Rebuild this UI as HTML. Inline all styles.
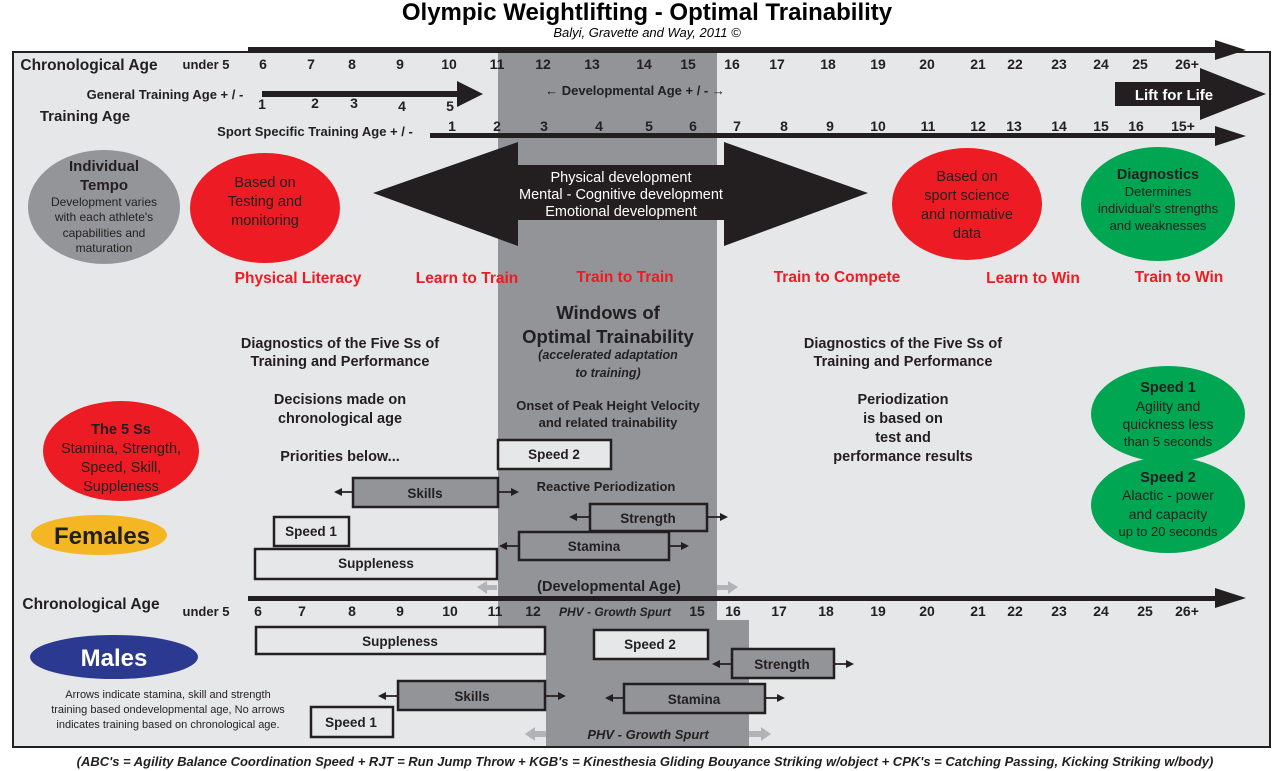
<!DOCTYPE html>
<html><head><meta charset="utf-8"><style>
html,body{margin:0;padding:0;background:#fff;}
svg{display:block;font-family:"Liberation Sans",Arial,sans-serif;}
.b{font-weight:bold;}
</style></head><body>
<svg width="1280" height="771" viewBox="0 0 1280 771" xmlns="http://www.w3.org/2000/svg">
<defs>
<marker id="ah" markerWidth="8" markerHeight="8" refX="6" refY="4" orient="auto" markerUnits="userSpaceOnUse"><path d="M0,0 L8,4 L0,8 Z" fill="#231f20"/></marker>
</defs>
<text x="647" y="20" text-anchor="middle" class="b" font-size="24" fill="#000">Olympic Weightlifting - Optimal Trainability</text>
<text x="647" y="37" text-anchor="middle" font-style="italic" font-size="13" fill="#000">Balyi, Gravette and Way, 2011 ©</text>

<rect x="13" y="52" width="1257" height="695" fill="#e6e7e8" stroke="#231f20" stroke-width="2"/>
<rect x="498" y="53" width="219" height="580" fill="#929497"/>
<rect x="546" y="620" width="203" height="126" fill="#929497"/>

<rect x="248" y="47" width="970" height="5" fill="#231f20"/>
<path d="M1215,40 L1246,50 L1215,60 Z" fill="#231f20"/>
<g font-size="14" class="b" fill="#231f20" text-anchor="middle">
<text x="89" y="70" font-size="15.5">Chronological Age</text>
<text x="206" y="69" font-size="13">under  5</text>
<text x="263" y="69">6</text><text x="311" y="69">7</text><text x="352" y="69">8</text><text x="400" y="69">9</text><text x="449" y="69">10</text><text x="497" y="69">11</text><text x="543" y="69">12</text><text x="592" y="69">13</text><text x="644" y="69">14</text><text x="688" y="69">15</text><text x="732" y="69">16</text><text x="777" y="69">17</text><text x="828" y="69">18</text><text x="878" y="69">19</text><text x="927" y="69">20</text><text x="978" y="69">21</text><text x="1015" y="69">22</text><text x="1059" y="69">23</text><text x="1101" y="69">24</text><text x="1140" y="69">25</text><text x="1187" y="69">26+</text>
</g>
<text x="165" y="99" text-anchor="middle" class="b" font-size="13" fill="#231f20">General Training Age + / -</text>
<rect x="262" y="91" width="200" height="6" fill="#231f20"/>
<path d="M457,81 L483,94 L457,107 Z" fill="#231f20"/>
<g font-size="14" class="b" fill="#231f20" text-anchor="middle">
<text x="262" y="109">1</text><text x="315" y="108">2</text><text x="354" y="108">3</text><text x="402" y="111">4</text><text x="450" y="111">5</text>
</g>
<text x="85" y="121" text-anchor="middle" class="b" font-size="15" fill="#231f20">Training Age</text>
<text x="635" y="95" text-anchor="middle" class="b" font-size="13" fill="#231f20">← Developmental Age + / -  →</text>
<rect x="1115" y="82" width="90" height="24" fill="#231f20"/>
<path d="M1200,68 L1266,94 L1200,120 Z" fill="#231f20"/>
<text x="1174" y="100" text-anchor="middle" class="b" font-size="15" fill="#fff">Lift for Life</text>
<text x="315" y="136" text-anchor="middle" class="b" font-size="13" fill="#231f20">Sport Specific Training Age + / -</text>
<rect x="430" y="133" width="790" height="5" fill="#231f20"/>
<path d="M1215,126 L1246,136 L1215,146 Z" fill="#231f20"/>
<g font-size="14" class="b" fill="#231f20" text-anchor="middle">
<text x="452" y="131">1</text><text x="497" y="131">2</text><text x="544" y="131">3</text><text x="599" y="131">4</text><text x="649" y="131">5</text><text x="693" y="131">6</text><text x="737" y="131">7</text><text x="784" y="131">8</text><text x="830" y="131">9</text><text x="878" y="131">10</text><text x="928" y="131">11</text><text x="978" y="131">12</text><text x="1014" y="131">13</text><text x="1059" y="131">14</text><text x="1101" y="131">15</text><text x="1136" y="131">16</text><text x="1183" y="131">15+</text>
</g>
<path d="M373,193 L518,142 L518,165 L724,165 L724,142 L868,193 L724,246 L724,220 L518,220 L518,246 Z" fill="#231f20"/>
<g fill="#fff" font-size="14.5" text-anchor="middle">
<text x="621" y="182">Physical development</text>
<text x="621" y="199">Mental - Cognitive development</text>
<text x="621" y="216">Emotional development</text>
</g>
<ellipse cx="104" cy="207" rx="76" ry="57" fill="#939598"/>
<g text-anchor="middle" fill="#231f20">
<text x="104" y="171" class="b" font-size="15">Individual</text>
<text x="104" y="190" class="b" font-size="15">Tempo</text>
<text x="104" y="206" font-size="12">Development varies</text>
<text x="104" y="221" font-size="12">with each athlete's</text>
<text x="104" y="237" font-size="12">capabilities and</text>
<text x="104" y="252" font-size="12">maturation</text>
</g>
<ellipse cx="265" cy="208" rx="75" ry="55" fill="#ed1c24"/>
<g text-anchor="middle" fill="#231f20" font-size="14.5">
<text x="265" y="187">Based on</text><text x="265" y="206">Testing and</text><text x="265" y="225">monitoring</text>
</g>
<ellipse cx="967" cy="204" rx="75" ry="56" fill="#ed1c24"/>
<g text-anchor="middle" fill="#231f20" font-size="14.5">
<text x="967" y="181">Based on</text><text x="967" y="200">sport science</text><text x="967" y="219">and normative</text><text x="967" y="238">data</text>
</g>
<ellipse cx="1158" cy="204" rx="77" ry="57" fill="#00a651"/>
<g text-anchor="middle" fill="#231f20">
<text x="1158" y="179" class="b" font-size="14.5">Diagnostics</text>
<text x="1158" y="196" font-size="13">Determines</text>
<text x="1158" y="213" font-size="13">individual's strengths</text>
<text x="1158" y="230" font-size="13">and weaknesses</text>
</g>
<g fill="#ed1c24" class="b" font-size="15.5" text-anchor="middle">
<text x="298" y="283">Physical Literacy</text><text x="467" y="283">Learn to Train</text><text x="625" y="282">Train to Train</text><text x="837" y="282">Train to Compete</text><text x="1033" y="283">Learn to Win</text><text x="1179" y="282">Train to Win</text>
</g>
<g fill="#231f20" class="b" font-size="14.5" text-anchor="middle">
<text x="340" y="348">Diagnostics of the Five Ss of</text><text x="340" y="366">Training and Performance</text>
<text x="340" y="404">Decisions made on</text><text x="340" y="423">chronological age</text>
<text x="340" y="461">Priorities below...</text>
<text x="903" y="348">Diagnostics of the Five Ss of</text><text x="903" y="366">Training and Performance</text>
<text x="903" y="404">Periodization</text><text x="903" y="423">is based on</text><text x="903" y="442">test and</text><text x="903" y="461">performance results</text>
<text x="608" y="319" font-size="18.5">Windows of</text><text x="608" y="343" font-size="18.5">Optimal Trainability</text>
<text x="608" y="359" font-size="12.5" font-style="italic">(accelerated adaptation</text><text x="608" y="377" font-size="12.5" font-style="italic">to training)</text>
<text x="608" y="410" font-size="13">Onset of Peak Height Velocity</text><text x="608" y="427" font-size="13">and related trainability</text>
<text x="606" y="491" font-size="13">Reactive Periodization</text>
<text x="609" y="591" font-size="14.5">(Developmental Age)</text>
</g>
<ellipse cx="1168" cy="414" rx="77" ry="48" fill="#00a651"/>
<g text-anchor="middle" fill="#231f20">
<text x="1168" y="392" class="b" font-size="14.5">Speed 1</text>
<text x="1168" y="411" font-size="14">Agility and</text><text x="1168" y="429" font-size="14">quickness less</text><text x="1168" y="446" font-size="13">than 5 seconds</text>
</g>
<ellipse cx="1168" cy="505" rx="77" ry="48" fill="#00a651"/>
<g text-anchor="middle" fill="#231f20">
<text x="1168" y="482" class="b" font-size="14.5">Speed 2</text>
<text x="1168" y="500" font-size="14">Alactic - power</text><text x="1168" y="519" font-size="14">and capacity</text><text x="1168" y="536" font-size="13">up to 20 seconds</text>
</g>
<ellipse cx="121" cy="451" rx="78" ry="50" fill="#ed1c24"/>
<g text-anchor="middle" fill="#231f20" font-size="14.5">
<text x="121" y="434" class="b">The 5 Ss</text><text x="121" y="453">Stamina, Strength,</text><text x="121" y="472">Speed, Skill,</text><text x="121" y="491">Suppleness</text>
</g>
<ellipse cx="99" cy="535" rx="68" ry="20" fill="#f4b723"/>
<text x="102" y="544" text-anchor="middle" class="b" font-size="24" fill="#231f20">Females</text>
<ellipse cx="114" cy="657" rx="84" ry="22" fill="#2b3990"/>
<text x="114" y="666" text-anchor="middle" class="b" font-size="24" fill="#fff">Males</text>
<g text-anchor="middle" fill="#231f20" font-size="11">
<text x="168" y="698">Arrows indicate stamina, skill and strength</text>
<text x="168" y="713">training based ondevelopmental age, No arrows</text>
<text x="168" y="728">indicates training based on chronological age.</text>
</g>

<g stroke="#231f20" stroke-width="1.8" fill="none" marker-end="url(#ah)">
<line x1="353" y1="492" x2="336" y2="492"/><line x1="498" y1="492" x2="517" y2="492"/>
<line x1="590" y1="517" x2="571" y2="517"/><line x1="707" y1="517" x2="726" y2="517"/>
<line x1="519" y1="546" x2="501" y2="546"/><line x1="669" y1="546" x2="687" y2="546"/>
<line x1="398" y1="696" x2="380" y2="696"/><line x1="545" y1="696" x2="564" y2="696"/>
<line x1="732" y1="664" x2="714" y2="664"/><line x1="834" y1="664" x2="852" y2="664"/>
<line x1="624" y1="698" x2="607" y2="698"/><line x1="765" y1="698" x2="783" y2="698"/>
</g>
<g stroke="#231f20" stroke-width="2.5">
<rect x="498" y="440" width="113" height="29" fill="#e6e7e8"/>
<rect x="353" y="478" width="145" height="29" fill="#929497"/>
<rect x="590" y="504" width="117" height="27" fill="#929497"/>
<rect x="274" y="517" width="75" height="29" fill="#e6e7e8"/>
<rect x="519" y="532" width="150" height="28" fill="#929497"/>
<rect x="255" y="549" width="242" height="30" fill="#e6e7e8"/>
<rect x="256" y="627" width="289" height="27" fill="#e6e7e8"/>
<rect x="594" y="630" width="114" height="29" fill="#e6e7e8"/>
<rect x="732" y="649" width="102" height="29" fill="#929497"/>
<rect x="398" y="681" width="147" height="29" fill="#929497"/>
<rect x="624" y="684" width="141" height="29" fill="#929497"/>
<rect x="311" y="707" width="82" height="30" fill="#e6e7e8"/>
</g>
<g fill="#231f20" class="b" font-size="13.5" text-anchor="middle">
<text x="554" y="459">Speed 2</text><text x="425" y="498">Skills</text><text x="648" y="523">Strength</text><text x="311" y="536">Speed 1</text><text x="594" y="551">Stamina</text><text x="376" y="568">Suppleness</text>
<text x="400" y="646">Suppleness</text><text x="650" y="649">Speed 2</text><text x="782" y="669">Strength</text><text x="472" y="701">Skills</text><text x="694" y="704">Stamina</text><text x="351" y="727">Speed 1</text>
</g>
<g fill="#b1b3b6">
<path d="M477,587 L487,581 L487,585 L497,585 L497,590 L487,590 L487,594 Z"/>
<path d="M738,587 L728,581 L728,585 L717,585 L717,590 L728,590 L728,594 Z"/>
<path d="M525,734 L535,727 L535,731 L546,731 L546,737 L535,737 L535,741 Z"/>
<path d="M771,734 L761,727 L761,731 L749,731 L749,737 L761,737 L761,741 Z"/>
</g>
<text x="648" y="739" text-anchor="middle" class="b" font-style="italic" font-size="13" fill="#231f20">PHV - Growth Spurt</text>

<rect x="248" y="596" width="970" height="5" fill="#231f20"/>
<path d="M1215,588 L1246,598 L1215,608 Z" fill="#231f20"/>
<g font-size="14" class="b" fill="#231f20" text-anchor="middle">
<text x="91" y="609" font-size="15.5">Chronological Age</text>
<text x="206" y="616" font-size="13">under  5</text>
<text x="258" y="616">6</text><text x="302" y="616">7</text><text x="352" y="616">8</text><text x="400" y="616">9</text><text x="450" y="616">10</text><text x="495" y="616">11</text><text x="533" y="616">12</text>
<text x="615" y="616" font-size="12" font-style="italic"><tspan class="b">PHV</tspan> - Growth Spurt</text>
<text x="697" y="616">15</text><text x="733" y="616">16</text><text x="779" y="616">17</text><text x="826" y="616">18</text><text x="878" y="616">19</text><text x="927" y="616">20</text><text x="978" y="616">21</text><text x="1015" y="616">22</text><text x="1059" y="616">23</text><text x="1101" y="616">24</text><text x="1145" y="616">25</text><text x="1187" y="616">26+</text>
</g>
<text x="645" y="766" text-anchor="middle" class="b" font-style="italic" font-size="13" fill="#231f20">(ABC's = Agility Balance Coordination Speed + RJT = Run Jump Throw + KGB's = Kinesthesia Gliding Bouyance Striking w/object + CPK's = Catching Passing, Kicking Striking w/body)</text>
</svg>
</body></html>
